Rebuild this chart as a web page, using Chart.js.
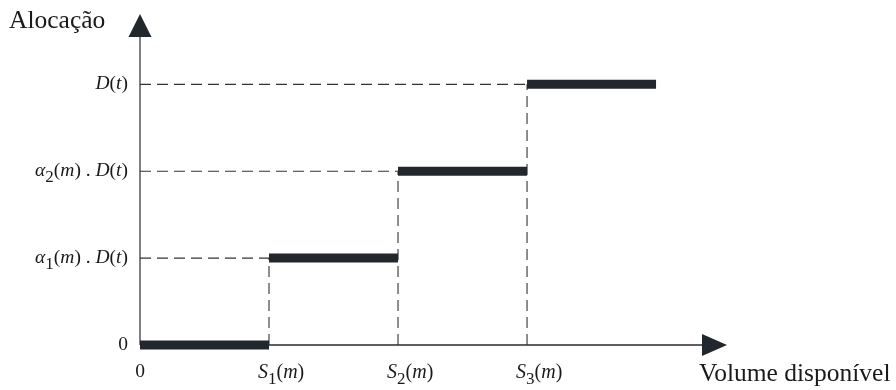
<!DOCTYPE html>
<html>
<head>
<meta charset="utf-8">
<script src="https://cdn.jsdelivr.net/npm/chart.js@4.4.1/dist/chart.umd.min.js"></script>
<style>
    html, body { margin: 0; padding: 0; background: #ffffff; }
    #wrap { width: 896px; height: 390px; }
</style>
</head>
<body>
<div id="wrap"><canvas id="stepChart" width="896" height="390"></canvas></div>
<script>
// breakpoints on the volume axis: 0, S1(m), S2(m), S3(m), end of last step
const xBreaks = [0, 1, 2, 3, 4];
// allocation level of each step: 0, a1.D, a2.D, D
const stepLevels = [0, 1, 2, 3];
const xTickLabels = ['0', 'S_1(m)', 'S_2(m)', 'S_3(m)'];
const yTickLabels = ['0', 'α_1(m) . D(t)', 'α_2(m) . D(t)', 'D(t)'];
const xAxisTitle = 'Volume disponível';
const yAxisTitle = 'Alocação';

const FONT = '"Liberation Serif", "Times New Roman", serif';
const BAR_COLOR = '#22262d';
const DASH_COLOR = '#333333';

// split "S_1(m)" into runs: letters italic, "_x" subscript
function parseLabel(str) {
    const runs = [];
    for (let i = 0; i < str.length; i++) {
        let ch = str[i];
        let sub = false;
        if (ch === '_' && i + 1 < str.length) {
            sub = true;
            ch = str[++i];
        }
        const italic = /[A-Za-zα]/.test(ch);
        runs.push({ t: ch, italic, sub });
    }
    return runs;
}

function runFont(run, size) {
    const s = run.sub ? Math.round(size * 0.85) : size;
    return (run.italic ? 'italic ' : '') + s + 'px ' + FONT;
}

function labelWidth(ctx, runs, size) {
    let w = 0;
    runs.forEach(r => {
        ctx.font = runFont(r, size);
        w += ctx.measureText(r.t).width;
    });
    return w;
}

function drawLabel(ctx, str, x, baseline, size, align) {
    const runs = parseLabel(str);
    const w = labelWidth(ctx, runs, size);
    let cx = align === 'right' ? x - w : align === 'center' ? x - w / 2 : x;
    ctx.textBaseline = 'alphabetic';
    ctx.textAlign = 'left';
    runs.forEach(r => {
        ctx.font = runFont(r, size);
        ctx.fillText(r.t, cx, baseline + (r.sub ? size * 0.32 : 0));
        cx += ctx.measureText(r.t).width;
    });
}

const axesPlugin = {
    id: 'axesPlugin',
    beforeDatasetsDraw(chart) {
        const { ctx } = chart;
        const xs = chart.scales.x;
        const ys = chart.scales.y;
        const x0 = xs.getPixelForValue(0);
        const y0 = ys.getPixelForValue(0);
        const xEnd = xs.right;
        const yTop = ys.top;
        ctx.save();

        // vertical axis
        ctx.strokeStyle = '#808080';
        ctx.lineWidth = 2;
        ctx.beginPath();
        ctx.moveTo(x0, y0);
        ctx.lineTo(x0, yTop + 20);
        ctx.stroke();

        // horizontal axis
        ctx.strokeStyle = '#2a2a2a';
        ctx.lineWidth = 1.3;
        ctx.beginPath();
        ctx.moveTo(x0, y0);
        ctx.lineTo(xEnd - 22, y0);
        ctx.stroke();

        // arrow heads
        ctx.fillStyle = BAR_COLOR;
        ctx.beginPath();
        ctx.moveTo(x0, yTop);
        ctx.lineTo(x0 - 11.5, yTop + 23);
        ctx.lineTo(x0 + 11.5, yTop + 23);
        ctx.closePath();
        ctx.fill();

        ctx.beginPath();
        ctx.moveTo(xEnd, y0);
        ctx.lineTo(xEnd - 25, y0 - 11);
        ctx.lineTo(xEnd - 25, y0 + 11);
        ctx.closePath();
        ctx.fill();
        ctx.restore();
    },
    afterDraw(chart) {
        const { ctx } = chart;
        const xs = chart.scales.x;
        const ys = chart.scales.y;
        const x0 = xs.getPixelForValue(0);
        const y0 = ys.getPixelForValue(0);
        ctx.save();
        ctx.fillStyle = '#1a1a1a';

        // y tick labels
        yTickLabels.forEach((lbl, i) => {
            const py = ys.getPixelForValue(stepLevels[i]);
            drawLabel(ctx, lbl, x0 - 12, py + 5, 19.5, 'right');
        });

        // x tick labels
        xTickLabels.forEach((lbl, i) => {
            const px = xs.getPixelForValue(xBreaks[i]);
            if (i === 0) {
                drawLabel(ctx, lbl, px, y0 + 32, 19.5, 'center');
            } else {
                drawLabel(ctx, lbl, px - 11, y0 + 33, 20, 'left');
            }
        });

        // axis titles
        ctx.font = '25.5px ' + FONT;
        ctx.textAlign = 'left';
        ctx.textBaseline = 'alphabetic';
        ctx.fillText(yAxisTitle, 9, 28);
        ctx.fillText(xAxisTitle, 699, 381);
        ctx.restore();
    }
};

function buildDatasets() {
    const sets = [];
    // thick step segments
    stepLevels.forEach((lv, i) => {
        sets.push({
            data: [{ x: xBreaks[i], y: lv }, { x: xBreaks[i + 1], y: lv }],
            borderColor: BAR_COLOR,
            borderWidth: 9,
            borderCapStyle: 'butt',
            pointRadius: 0,
            clip: false
        });
    });
    // dashed guides back to the axes
    for (let i = 1; i < stepLevels.length; i++) {
        sets.push({
            data: [{ x: 0, y: stepLevels[i] }, { x: xBreaks[i], y: stepLevels[i] }],
            borderColor: DASH_COLOR,
            borderWidth: 1.1,
            borderDash: [11, 6],
            pointRadius: 0
        });
        sets.push({
            data: [{ x: xBreaks[i], y: 0 }, { x: xBreaks[i], y: stepLevels[i] }],
            borderColor: DASH_COLOR,
            borderWidth: 1.1,
            borderDash: [11, 6],
            pointRadius: 0
        });
    }
    return sets;
}

document.addEventListener('DOMContentLoaded', () => {
    const ctx = document.getElementById('stepChart');
    new Chart(ctx, {
        type: 'line',
        data: { datasets: buildDatasets() },
        options: {
            responsive: false,
            animation: false,
            devicePixelRatio: 1,
            layout: { padding: { left: 140, right: 169, top: 14, bottom: 45 } },
            plugins: { legend: { display: false }, tooltip: { enabled: false } },
            scales: {
                x: { type: 'linear', min: 0, max: 4.55, display: false },
                y: { type: 'linear', min: 0, max: 3.81, display: false }
            }
        },
        plugins: [axesPlugin]
    });
});
</script>
</body>
</html>
